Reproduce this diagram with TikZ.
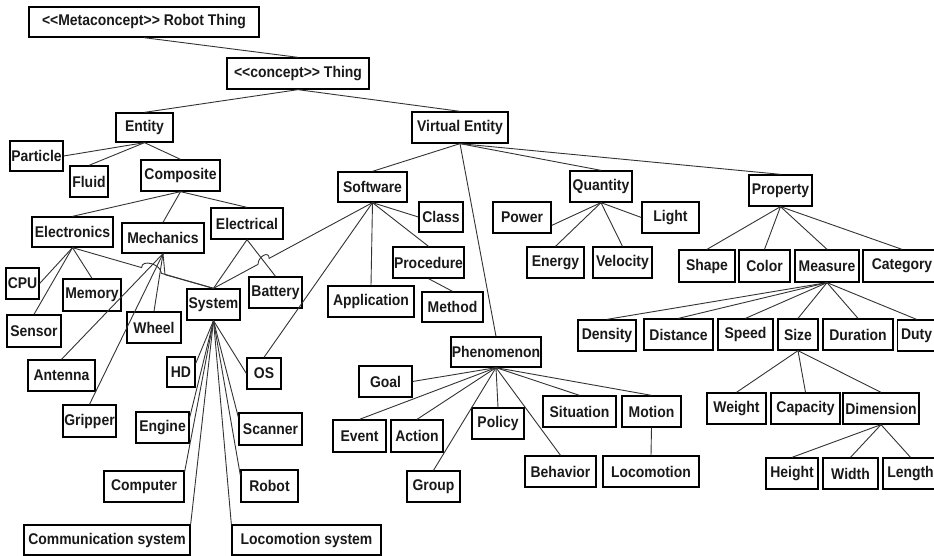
\documentclass[tikz,border=0pt]{standalone}
\usepackage{fontspec}
\newfontfamily\labfont{Liberation Sans Bold}[FakeStretch=0.9]
\usetikzlibrary{calc}
\newcommand\mybox[6]{\node[box,minimum width=#4pt,minimum height=#5pt] (#1) at (#2,#3) {#6};}
\begin{document}
\begin{tikzpicture}[x=1pt,y=-1pt,
  box/.style={draw=black, line width=1.3pt, fill=white, inner sep=0pt,
    font=\labfont\fontsize{15.5}{17}\selectfont, text=black!90},
  conn/.style={draw=black!80, line width=0.9pt}]
\useasboundingbox (0,0) rectangle (934,556);
\clip (0,0) rectangle (934,556);
\fill[white] (0,0) rectangle (934,556);
% nodes
\mybox{meta}{144}{22}{230}{30}{<\kern0pt<Metaconcept>\kern0pt> Robot Thing}
\mybox{thing}{298}{73.5}{142}{31}{<\kern0pt<concept>\kern0pt> Thing}
\mybox{entity}{144.5}{127.5}{57}{29}{Entity}
\mybox{ventity}{460}{127.5}{96}{31}{Virtual Entity}
\mybox{particle}{36.5}{156}{53}{30}{Particle}
\mybox{fluid}{89}{181.5}{38}{31}{Fluid}
\mybox{composite}{180.5}{175.5}{79}{31}{Composite}
\mybox{software}{372.5}{187}{69}{30}{Software}
\mybox{quantity}{601}{186.5}{62}{31}{Quantity}
\mybox{property}{780.5}{190.5}{63}{31}{Property}
\mybox{power}{522}{217.5}{58}{31}{Power}
\mybox{light}{670.5}{217.5}{57}{31}{Light}
\mybox{energy}{555.5}{262.5}{57}{31}{Energy}
\mybox{velocity}{622.5}{262.5}{59}{31}{Velocity}
\mybox{shape}{707}{266}{56}{32}{Shape}
\mybox{color}{764.5}{266}{51}{32}{Color}
\mybox{measure}{827}{266}{64}{32}{Measure}
\mybox{category}{902}{266}{78}{32}{Category}
\mybox{density}{607}{335.5}{58}{31}{Density}
\mybox{distance}{678.5}{334.5}{69}{31}{Distance}
\mybox{speed}{745.5}{334.5}{55}{31}{Speed}
\mybox{size}{798}{334.5}{40}{31}{Size}
\mybox{duration}{858}{334.5}{70}{31}{Duration}
\mybox{duty}{916.5}{335.5}{38}{31}{Duty}
\mybox{weight}{736.5}{408.5}{59}{31}{Weight}
\mybox{capacity}{805.5}{408.5}{69}{31}{Capacity}
\mybox{dimension}{881}{408.5}{76}{31}{Dimension}
\mybox{height}{792}{473.5}{52}{31}{Height}
\mybox{width}{850.5}{473.5}{55}{31}{Width}
\mybox{length}{910.5}{473.5}{55}{31}{Length}
\mybox{phenomenon}{496}{352}{90}{30}{Phenomenon}
\mybox{goal}{385.5}{381.5}{53}{31}{Goal}
\mybox{event}{359.5}{436}{53}{32}{Event}
\mybox{action}{417}{436}{52}{32}{Action}
\mybox{policy}{498}{423.5}{52}{31}{Policy}
\mybox{situation}{579.5}{411.5}{73}{31}{Situation}
\mybox{motion}{651.5}{411.5}{59}{31}{Motion}
\mybox{group}{433.5}{486.5}{53}{31}{Group}
\mybox{behavior}{560.5}{471.5}{71}{31}{Behavior}
\mybox{locomotion}{651}{471.5}{96}{31}{Locomotion}
\mybox{class}{441}{217}{44}{30}{Class}
\mybox{procedure}{428.5}{262.5}{71}{31}{Procedure}
\mybox{method}{452.5}{307}{61}{30}{Method}
\mybox{application}{371}{301.5}{86}{31}{Application}
\mybox{electronics}{72.5}{232}{81}{30}{Electronics}
\mybox{mechanics}{163}{238}{82}{30}{Mechanics}
\mybox{electrical}{247}{223.5}{72}{31}{Electrical}
\mybox{cpu}{22.5}{283.5}{33}{31}{CPU}
\mybox{memory}{92}{295}{58}{32}{Memory}
\mybox{sensor}{34}{331}{54}{32}{Sensor}
\mybox{wheel}{154}{327.5}{54}{31}{Wheel}
\mybox{system}{213.5}{304.5}{53}{31}{System}
\mybox{battery}{275.5}{292.5}{53}{31}{Battery}
\mybox{antenna}{61.5}{375.5}{67}{31}{Antenna}
\mybox{hd}{181}{372}{28}{30}{HD}
\mybox{os}{264}{373.5}{34}{31}{OS}
\mybox{gripper}{89.5}{421}{53}{32}{Gripper}
\mybox{engine}{162.5}{427.5}{53}{31}{Engine}
\mybox{scanner}{270.5}{429}{63}{32}{Scanner}
\mybox{computer}{144}{486.5}{80}{31}{Computer}
\mybox{robot}{269.5}{486}{57}{32}{Robot}
\mybox{comm}{107}{540}{166}{30}{Communication system}
\mybox{locosys}{306.5}{540}{149}{30}{Locomotion system}
% connectors
\draw[conn] (meta.south) -- (thing.north);
\draw[conn] (thing.south) -- (entity.north);
\draw[conn] (thing.south) -- (ventity.north);
\draw[conn] (entity.south) -- (particle.east);
\draw[conn] (entity.south) -- (fluid.north);
\draw[conn] (entity.south) -- (composite.north);
\draw[conn] (composite.south) -- (electronics.north);
\draw[conn] (composite.south) -- (mechanics.north);
\draw[conn] (composite.south) -- (electrical.north);
\draw[conn] (electronics.south) -- (cpu.east);
\draw[conn] (electronics.south) -- (memory.north);
\draw[conn] (electronics.south) -- (sensor.north);
\coordinate (h1a) at ($(electronics.south)!0.49!(system.north)$);
\coordinate (h1b) at ($(electronics.south)!0.63!(system.north)$);
\draw[conn] (electronics.south) -- (h1a) .. controls ($(h1a)+(0,-9)$) and ($(h1b)+(0,-9)$) .. (h1b) -- (system.north);
\draw[conn] (mechanics.south) -- (antenna.north);
\draw[conn] (mechanics.south) -- (gripper.north);
\draw[conn] (mechanics.south) -- (wheel.north);
\coordinate (mbend) at ($(mechanics.south)+(2,21)$);
\draw[conn] (mechanics.south) -- (mbend) -- (system.north);
\draw[conn] (electrical.south) -- (system.north);
\draw[conn] (electrical.south) -- (battery.north);
\coordinate (h2a) at ($(software.south)!0.65!(system.north)$);
\coordinate (h2b) at ($(software.south)!0.72!(system.north)$);
\draw[conn] (software.south) -- (h2a) .. controls ($(h2a)+(0,-8)$) and ($(h2b)+(0,-8)$) .. (h2b) -- (system.north);
\draw[conn] (software.south) -- (os.north);
\draw[conn] (software.south) -- (application.north);
\draw[conn] (software.south) -- (class.west);
\draw[conn] (software.south) -- (procedure.north);
\draw[conn] (procedure.south) -- (method.north);
\draw[conn] (system.south) -- (hd.30);
\draw[conn] (system.south) -- (os.west);
\draw[conn] (system.south) -- (engine.20);
\draw[conn] (system.south) -- (scanner.160);
\draw[conn] (system.south) -- (computer.20);
\draw[conn] (system.south) -- (robot.160);
\draw[conn] (system.south) -- (comm.north east);
\draw[conn] (system.south) -- (locosys.north west);
\draw[conn] (ventity.south) -- (software.north);
\draw[conn] (ventity.south) -- (phenomenon.north);
\draw[conn] (ventity.south) -- (quantity.north);
\draw[conn] (ventity.south) -- (property.north);
\draw[conn] (quantity.south) -- (power.-15);
\draw[conn] (quantity.south) -- (light.west);
\draw[conn] (quantity.south) -- (energy.north);
\draw[conn] (quantity.south) -- (velocity.north);
\draw[conn] (property.south) -- (shape.north);
\draw[conn] (property.south) -- (color.north);
\draw[conn] (property.south) -- (measure.north);
\draw[conn] (property.south) -- (category.north);
\draw[conn] (measure.south) -- (density.north);
\draw[conn] (measure.south) -- (distance.north);
\draw[conn] (measure.south) -- (speed.north);
\draw[conn] (measure.south) -- (size.north);
\draw[conn] (measure.south) -- (duration.north);
\draw[conn] (measure.south) -- (duty.north);
\draw[conn] (size.south) -- (weight.north);
\draw[conn] (size.south) -- (capacity.north);
\draw[conn] (size.south) -- (dimension.north);
\draw[conn] (dimension.south) -- (height.north);
\draw[conn] (dimension.south) -- (width.north);
\draw[conn] (dimension.south) -- (length.north);
\draw[conn] (phenomenon.south) -- (goal.east);
\draw[conn] (phenomenon.south) -- (event.north);
\draw[conn] (phenomenon.south) -- (action.north);
\draw[conn] (phenomenon.south) -- (group.north);
\draw[conn] (phenomenon.south) -- (policy.north);
\draw[conn] (phenomenon.south) -- (behavior.north);
\draw[conn] (phenomenon.south) -- (situation.north);
\draw[conn] (phenomenon.south) -- (motion.north);
\draw[conn] (motion.south) -- (locomotion.north);
\end{tikzpicture}
\end{document}
